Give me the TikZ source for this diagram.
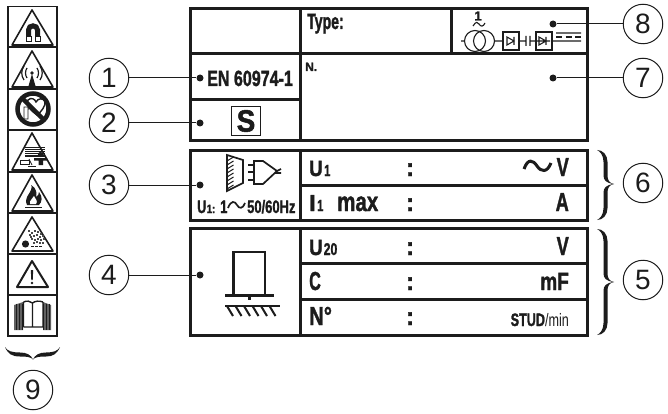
\documentclass[tikz,border=0pt]{standalone}
\usepackage{graphicx}
\usepackage{fontspec}
\setmainfont[BoldFeatures={FakeBold=1.6}]{Liberation Sans}
\definecolor{ink}{HTML}{1C1C1C}
\newcommand\sq[2]{\scalebox{#1}[1]{#2}}
\newcommand\fs[1]{\fontsize{#1}{#1}\selectfont}
\newcommand\tri[2]{\draw[tri] (32,#1) -- (53,#2) -- (12,#2) -- cycle;}
\newcommand\bracev[3]{%
\fill[ink] (0,#1) .. controls (6,#1) and (10.5,#1+5) .. (10.5,#1+12) -- (10.5,#2-9)
 .. controls (10.5,#2-4) and (12,#2-1) .. (17,#2)
 .. controls (12,#2+1) and (10.5,#2+4) .. (10.5,#2+9) -- (10.5,#3-12)
 .. controls (10.5,#3-5) and (6,#3) .. (0,#3)
 .. controls (3,#3-1.5) and (6.5,#3-5) .. (6.5,#3-12) -- (6.5,#2+9)
 .. controls (6.5,#2+4) and (8.5,#2+1) .. (17,#2)
 .. controls (8.5,#2-1) and (6.5,#2-4) .. (6.5,#2-9) -- (6.5,#1+12)
 .. controls (6.5,#1+5) and (3,#1+1.5) .. (0,#1) -- cycle;}
\tikzset{
  every node/.style={text=ink},
  frame/.style={draw=ink,line width=3pt},
  rule/.style={draw=ink,line width=3pt},
  thin line/.style={draw=ink,line width=1pt},
  med/.style={draw=ink,line width=1.7pt},
  tri/.style={draw=ink,line width=1.6pt,line join=round},
  num/.style={circle,draw=ink,line width=1pt,minimum size=39.5pt,inner sep=0pt,font=\fs{28}},
  dotn/.style={circle,fill=ink,minimum size=7pt,inner sep=0pt},
  lab/.style={inner sep=0pt,anchor=base west,font=\bfseries},
  labr/.style={inner sep=0pt,anchor=base east,font=\bfseries},
  labc/.style={inner sep=0pt,anchor=base,font=\bfseries\fs{25}},
}
\begin{document}
\begin{tikzpicture}[x=1pt,y=-1pt]
\useasboundingbox (0,0) rectangle (668,414);
\fill[white] (0,0) rectangle (668,414);
% warning stack
\draw[draw=ink,line width=1.5pt] (8,6.5) rectangle (57,336);
\foreach \yy in {47.5,89,130.5,172,213,253.5,295}{\draw[draw=ink,line width=2pt] (8,\yy) -- (57,\yy);}
\tri{10}{45}\tri{51}{87}\tri{133}{170}\tri{175}{211}\tri{217}{251}
\draw[draw=ink,line width=2pt,line join=round] (32,261) -- (48,287) -- (17,287) -- cycle;
% magnet
\draw[draw=ink,line width=5pt] (28.5,36) -- (28.5,30) .. controls (28.5,24.5) and (37.5,24.5) .. (37.5,30) -- (37.5,36);
\draw[draw=ink,line width=.8pt] (26,36) rectangle (31,41.5) (35,36) rectangle (40,41.5);
% radio
\fill[ink] (32,74) -- (35.5,86) -- (28.5,86) -- cycle;
\fill[ink] (32,73) circle [radius=1.8pt];
\draw[draw=ink,line width=1.2pt] (27,68) .. controls (25,71) and (25,75) .. (27,78)
 (37,68) .. controls (39,71) and (39,75) .. (37,78)
 (24,66) .. controls (21,70) and (21,76) .. (24,80)
 (40,66) .. controls (43,70) and (43,76) .. (40,80);
% prohibited
\draw[draw=ink,fill=white,line width=1.4pt] (37,115) .. controls (30,110) and (25,104) .. (28,100) .. controls (31,97) and (35,99) .. (36,102) .. controls (38,98) and (43,98) .. (45,101) .. controls (46,106) and (41,112) .. (37,115) -- cycle;
\draw[draw=ink,line width=.8pt] (24,107) rectangle (28,119) (28,109) -- (33,108);
\draw[draw=ink,line width=4.5pt] (33,109) circle [radius=15.5pt];
\draw[draw=ink,line width=4.5pt] (22,98) -- (44,120);
% crush
\foreach \xa in {25,27,...,43}{\foreach \ya in {147,149,...,156}{\fill[ink] (\xa,\ya) rectangle +(1.5,1.5);}}
\fill[ink] (40.5,154.5) circle [radius=2.6pt];
\fill[ink] (34,158) -- (47,158) -- (47,160.5) -- (43,160.5) -- (43,165) -- (38.5,165) -- (38.5,160.5) -- (34,160.5) -- cycle;
\draw[draw=ink,line width=.7pt] (20,160) rectangle (29,164);
\draw[draw=ink,line width=.7pt] (29,159) -- (32,165);
\draw[draw=ink,line width=1.2pt] (28,166.5) -- (36,166.5);
% flame
\fill[ink] (27,205) .. controls (24,198) and (29,195) .. (31,190) .. controls (32,187) and (32,186) .. (31,185) .. controls (37,188) and (37,194) .. (36,197) .. controls (38,196) and (39,194) .. (39,192) .. controls (43,197) and (42,202) .. (39,205) -- cycle;
\fill[white] (30,204) .. controls (29,200) and (33,199) .. (34,196) .. controls (36,200) and (38,201) .. (36,204) -- cycle;
\draw[draw=ink,line width=1.5pt] (25,207.5) -- (42,207.5);
% dust
\foreach \xa/\ya in {28/230,31/232,34/230,37/231,40/233,29/234,33/235,36/234,39/236,42/235,31/238,34/239,37/238,40/239,43/238,33/242,36/241,39/242,42/242,30/236}{\fill[ink!80] (\xa,\ya) rectangle +(1.6,1.6);}
\fill[ink] (25.5,244) circle [radius=3.6pt];
\draw[draw=ink,line width=.9pt,dash pattern=on 2.5pt off 1.5pt] (31,246) -- (42,246);
% exclamation
\fill[ink] (30.8,270) -- (33.2,270) -- (32.7,280) -- (31.3,280) -- cycle;
\fill[ink] (32,283) circle [radius=1.3pt];
% book
\fill[ink!70] (14,305) -- (23,302) -- (23,330) -- (14,330) -- cycle;
\fill[ink!70] (43,302) -- (51,305) -- (51,330) -- (43,330) -- cycle;
\foreach \xa in {16,19,22,43.5,46.5,49.5}{\draw[draw=ink,line width=1pt] (\xa,303.5) -- (\xa,330);}
\draw[draw=ink,line width=1.4pt] (23.5,302) .. controls (27,300.5) and (30,301) .. (32.5,303) .. controls (35,301) and (39,300.5) .. (43,302) (32.5,303) -- (32.5,327) (23.5,302) -- (23.5,327) (43,302) -- (43,327) (23.5,327) -- (43,327);
% brace of 9
\fill[ink] (5,347) .. controls (7,351) and (12,352.5) .. (20,352.5) .. controls (27,352.5) and (31,355) .. (33,359.5)
 .. controls (35,355) and (39,352.5) .. (46,352.5) .. controls (53,352.5) and (58,351) .. (60,347)
 .. controls (57,354) and (53,356.5) .. (46,356.5) .. controls (39,356.5) and (35,357) .. (33,359.5)
 .. controls (31,357) and (27,356.5) .. (20,356.5) .. controls (12,356.5) and (8,354) .. (5,347) -- cycle;
% label table
\draw[frame] (190,8.5) rectangle (587,141);
\draw[rule] (190,54) -- (587,54) (300,8.5) -- (300,141) (451,8.5) -- (451,54) (190,100) -- (300,100);
\draw[frame] (190,150.5) rectangle (587,220);
\draw[rule] (300,150.5) -- (300,220) (300,185) -- (587,185);
\draw[frame] (190,228.5) rectangle (587,335);
\draw[rule] (300,228.5) -- (300,335) (300,263) -- (587,263) (300,299) -- (587,299);
% texts
\node[lab,font=\bfseries\fs{22}] (ttype) at (307,29) {\sq{.64}{Type:}};
\node[lab,font=\bfseries\fs{22}] (ten) at (207,86) {\sq{.73}{EN 60974-1}};
\node[lab,font=\bfseries\fs{12}] (tn) at (305,71) {N.};
\node[draw=ink,line width=1.4pt,minimum width=29pt,minimum height=29pt,inner sep=0pt,font=\bfseries\fs{31}] (sbox) at (246,121) {\sq{.9}{S}};
\node[lab,font=\bfseries\fs{22}] (u1) at (309,176) {\sq{.85}{U}};
\node[lab,font=\bfseries\fs{16}] (u1s) at (324,176) {\sq{.7}{1}};
\node[lab,font=\bfseries\fs{23}] (i1) at (309,211) {\sq{1}{I}};
\node[lab,font=\bfseries\fs{16}] (i1s) at (317,211) {\sq{.7}{1}};
\node[lab,font=\bfseries\fs{27}] (imax) at (337,211) {\sq{.76}{max}};
\node[lab,font=\bfseries\fs{22}] (u20) at (309,255) {\sq{.85}{U}};
\node[lab,font=\bfseries\fs{17}] (u20s) at (323.5,255) {\sq{.72}{20}};
\node[lab,font=\bfseries\fs{26}] (cc) at (309,290) {\sq{.62}{C}};
\node[lab,font=\bfseries\fs{26}] (nn) at (309,325) {\sq{.78}{N°}};
\foreach \nm/\yy in {ca/176,cb/211,cc2/255,cd/290,ce/325}{\node[labc] (\nm) at (410,\yy) {:};}
\node[labr,font=\bfseries\fs{26}] (vv) at (569,176) {\sq{.7}{V}};
\node[labr,font=\bfseries\fs{26}] (aa) at (569,211) {\sq{.7}{A}};
\node[labr,font=\bfseries\fs{26}] (vb) at (569,255) {\sq{.7}{V}};
\node[labr,font=\bfseries\fs{25}] (mf) at (569,290) {\sq{.76}{mF}};
\node[labr,font=\fs{18}] (stud) at (569,326) {\sq{.7}{\textbf{STUD}/min}};
\draw[draw=ink,line width=3pt] (524,169) .. controls (528,158) and (533,160) .. (537,166) .. controls (541,172) and (547,173) .. (551,163);
\node[lab,font=\bfseries\fs{18}] (ua) at (197,213) {\sq{.7}{U}};
\node[lab,font=\bfseries\fs{12}] (ub) at (206.5,213) {\sq{.8}{1:}};
\node[lab,font=\bfseries\fs{18}] (uc) at (220,213) {\sq{.72}{1}};
\node[lab,font=\bfseries\fs{18}] (ud) at (247,213) {\sq{.72}{50/60Hz}};
\draw[draw=ink,line width=1.7pt] (228,208) .. controls (231,200) and (235,201) .. (237,205) .. controls (239,209) and (243,209) .. (245,203);
% plug symbol
\draw[med] (227,155) -- (243,160) -- (243,183) -- (227,191) -- cycle;
\foreach \ya in {158,162,...,186}{\draw[draw=ink,line width=1pt] (227,\ya+3) -- (233.5,\ya-1);}
\draw[med] (254,161) -- (263,161) -- (277,171) -- (263,184) -- (254,184) -- cycle;
\draw[med] (248,165) -- (254,165) (248,172) -- (254,172) (248,180) -- (254,180) (277,171) -- (281,169) (275,173) -- (281,173);
% floor symbol
\draw[draw=ink,line width=2.4pt] (233.5,295) -- (233.5,252) -- (265,252) -- (265,295);
\draw[draw=ink,line width=3pt] (225,295) -- (274,295);
\draw[draw=ink,line width=3pt] (249.5,295) -- (249.5,300);
\draw[draw=ink,line width=2.4pt] (225,306) -- (280,306);
\foreach \xa in {227,235.5,244,252.5,261,269.5}{\draw[draw=ink,line width=2pt] (\xa,306) -- (\xa+6,316);}
% circuit symbol
\node[inner sep=0pt,font=\bfseries\fs{13}] (one) at (478,16) {1};
\draw[draw=ink,line width=1.1pt] (473,26) .. controls (476,21) and (478,22) .. (479,24) .. controls (481,27) and (483,27) .. (485,23);
\node[circle,draw=ink,line width=1.1pt,minimum size=21pt,inner sep=0pt] (tl) at (475,41) {};
\node[circle,draw=ink,line width=1.1pt,minimum size=21pt,inner sep=0pt] (tr) at (484,41) {};
\coordinate (inl) at (461,41);
\node[draw=ink,line width=1.1pt,minimum width=16pt,minimum height=18pt,inner sep=0pt] (bx1) at (511,41) {};
\node[draw=ink,line width=1.1pt,minimum width=16pt,minimum height=18pt,inner sep=0pt] (bx2) at (544,41) {};
\coordinate (capa) at (526,41);
\coordinate (capb) at (530,41);
\coordinate (dca) at (581,41);
\draw[draw=ink,line width=1.1pt] (inl) -- (tl.west) (tr.east) -- (bx1.west) (bx1.east) -- (capa) (capb) -- (bx2.west) (bx2.east) -- (dca)
 (526,36) -- (526,46) (530,36) -- (530,46)
 (507,37) -- (507,45) -- (514,41) -- cycle (514,37) -- (514,45)
 (539,37) -- (539,45) -- (546,41) -- cycle (546,37) -- (546,45) (535,41) -- (550,41)
 (556,33) -- (581,33);
\draw[draw=ink,line width=1.1pt,dash pattern=on 6pt off 3.5pt] (556,37) -- (581,37);
% numbers, dots, connectors
\node[num] (c1) at (109,78) {1};
\node[num] (c2) at (109,123) {2};
\node[num] (c3) at (109,185) {3};
\node[num] (c4) at (109,275) {4};
\node[num] (c5) at (643,280) {5};
\node[num] (c6) at (643,183) {6};
\node[num] (c7) at (643,78) {7};
\node[num] (c8) at (643,24) {8};
\node[num] (c9) at (33,390) {9};
\node[dotn] (d1) at (200,78) {};
\node[dotn] (d2) at (200,123) {};
\node[dotn] (d3) at (200,185) {};
\node[dotn] (d4) at (200,275) {};
\node[dotn] (d7) at (553,78) {};
\node[dotn] (d8) at (553,24) {};
\foreach \a/\b in {c1/d1,c2/d2,c3/d3,c4/d4,c7/d7,c8/d8}{\draw[thin line] (\a) -- (\b);}
% braces
\begin{scope}[shift={(597,0)}]
\bracev{150}{184}{220}
\bracev{229}{282}{335}
\end{scope}
\end{tikzpicture}
\end{document}
